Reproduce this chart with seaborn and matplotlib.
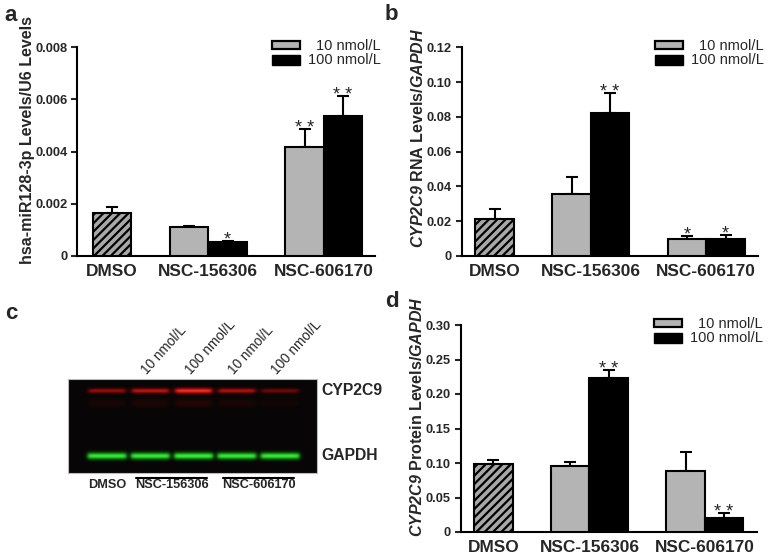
import numpy as np
import pandas as pd
import matplotlib
matplotlib.use("Agg")
import matplotlib.pyplot as plt
import seaborn as sns
from matplotlib.patches import Rectangle
from matplotlib.lines import Line2D

# ---------------- data ----------------
groups = ["DMSO", "NSC-156306", "NSC-606170"]
doses = ["10 nmol/L", "100 nmol/L"]

# panel a: hsa-miR128-3p / U6
a_dmso, a_dmso_err = 0.00165, 0.00022
a_10 = [0.00110, 0.00416]
a_10_err = [0.00004, 0.00069]
a_100 = [0.00055, 0.00536]
a_100_err = [0.00004, 0.00077]
a_sig_10 = ["", "**"]
a_sig_100 = ["*", "**"]
a_yticks = [0, 0.002, 0.004, 0.006, 0.008]
a_yticklabels = ["0", "0.002", "0.004", "0.006", "0.008"]

# panel b: CYP2C9 RNA / GAPDH
b_dmso, b_dmso_err = 0.0213, 0.0057
b_10 = [0.0355, 0.0099]
b_10_err = [0.0099, 0.0016]
b_100 = [0.0824, 0.0096]
b_100_err = [0.0111, 0.0026]
b_sig_10 = ["", "*"]
b_sig_100 = ["**", "*"]
b_yticks = [0, 0.02, 0.04, 0.06, 0.08, 0.10, 0.12]
b_yticklabels = ["0", "0.02", "0.04", "0.06", "0.08", "0.10", "0.12"]

# panel d: CYP2C9 protein / GAPDH
d_dmso, d_dmso_err = 0.098, 0.007
d_10 = [0.0957, 0.0889]
d_10_err = [0.0057, 0.0275]
d_100 = [0.2236, 0.0208]
d_100_err = [0.0112, 0.0072]
d_sig_10 = ["", ""]
d_sig_100 = ["**", "**"]
d_yticks = [0, 0.05, 0.10, 0.15, 0.20, 0.25, 0.30]
d_yticklabels = ["0", "0.05", "0.10", "0.15", "0.20", "0.25", "0.30"]

# panel c: western blot lanes
lane_groups = ["DMSO", "NSC-156306", "NSC-156306", "NSC-606170", "NSC-606170"]
lane_doses = ["", "10 nmol/L", "100 nmol/L", "10 nmol/L", "100 nmol/L"]
cyp_band = [0.60, 0.75, 1.00, 0.70, 0.45]
gapdh_band = [0.95, 0.95, 0.97, 0.95, 0.95]
blot_labels = ["CYP2C9", "GAPDH"]

# ---------------- style ----------------
sns.set_style("ticks")
plt.rcParams["font.family"] = ["Liberation Sans", "DejaVu Sans"]
plt.rcParams["mathtext.fontset"] = "custom"
plt.rcParams["mathtext.it"] = "Liberation Sans:italic:bold"
plt.rcParams["mathtext.rm"] = "Liberation Sans:italic:bold"
plt.rcParams["mathtext.bf"] = "Liberation Sans:bold"
plt.rcParams["hatch.linewidth"] = 1.6

W, H = 770, 556
fig = plt.figure(figsize=(W / 100, H / 100), dpi=100)
fig.patch.set_facecolor("white")


def axes_px(l, t, r, b):
    return fig.add_axes([l / W, 1 - b / H, (r - l) / W, (b - t) / H])


GRAY = "#b4b4b4"
HATCH_FACE = "#a8a8a8"
LW = 1.5


def bar_panel(ax, dmso, dmso_err, v10, e10, v100, e100, s10, s100,
              yticks, yticklabels, ylabel, xlim, label_xy):
    kinds, pos, vals, errs, sigs = ["DMSO"], [0.0], [dmso], [dmso_err], [""]
    for j in range(len(v10)):
        kinds += [doses[0], doses[1]]
        pos += [2.0 + 3 * j, 3.0 + 3 * j]
        vals += [v10[j], v100[j]]
        errs += [e10[j], e100[j]]
        sigs += [s10[j], s100[j]]
    df = pd.DataFrame({"kind": kinds, "pos": pos, "value": vals, "err": errs, "sig": sigs})
    sns.barplot(data=df, x="pos", y="value", hue="kind",
                hue_order=["DMSO"] + doses,
                palette={"DMSO": HATCH_FACE, doses[0]: GRAY, doses[1]: "black"},
                native_scale=True, width=1.0, dodge=False, errorbar=None,
                edgecolor="black", linewidth=LW, legend=False, ax=ax, zorder=3)
    for bar in ax.containers[0]:
        bar.set_hatch("////")
    ax.errorbar(df["pos"], df["value"], yerr=[np.zeros(len(df)), df["err"]],
                fmt="none", ecolor="black", elinewidth=LW, capsize=4.3,
                capthick=LW, zorder=2)
    for _, r in df.iterrows():
        if r["sig"]:
            ax.annotate(" ".join(r["sig"]), xy=(r["pos"], r["value"] + r["err"]),
                        xytext=(0, -2.8), textcoords="offset points",
                        ha="center", va="baseline", fontsize=13)
    ax.set_xlim(*xlim)
    ax.set_ylim(yticks[0], yticks[-1])
    ax.set_xticks([0, 2.5, 5.5])
    ax.set_xticklabels(groups, fontweight="bold", fontsize=12.4)
    ax.set_yticks(yticks)
    ax.set_yticklabels(yticklabels, fontweight="bold", fontsize=9.3)
    ax.tick_params(axis="x", length=0, pad=6)
    ax.tick_params(axis="y", length=4, width=LW, pad=3, direction="out")
    for s in ["top", "right"]:
        ax.spines[s].set_visible(False)
    for s in ["left", "bottom"]:
        ax.spines[s].set_linewidth(LW)
        ax.spines[s].set_color("black")
    ax.set_xlabel("")
    ax.set_ylabel(ylabel, fontweight="bold", fontsize=11.5)
    ax.yaxis.set_label_coords(*label_xy)
    ax.set_facecolor("white")

    # legend (manual, right-aligned labels)
    p = ax.get_position()
    R = p.x1 * W
    T = (1 - p.y1) * H
    fig.add_artist(Rectangle(((R - 103) / W, 1 - (T + 2) / H), 28 / W, 8 / H,
                             transform=fig.transFigure, facecolor=GRAY,
                             edgecolor="black", linewidth=1.6))
    fig.add_artist(Rectangle(((R - 103) / W, 1 - (T + 18) / H), 28 / W, 10 / H,
                             transform=fig.transFigure, facecolor="black",
                             edgecolor="black", linewidth=1.0))
    fig.text((R + 6) / W, 1 - (T - 1.5) / H, doses[0], ha="right", va="center", fontsize=10.5)
    fig.text((R + 6) / W, 1 - (T + 12.5) / H, doses[1], ha="right", va="center", fontsize=10.5)


# panel a
ax_a = axes_px(77, 47.3, 375, 256)
bar_panel(ax_a, a_dmso, a_dmso_err, a_10, a_10_err, a_100, a_100_err,
          a_sig_10, a_sig_100, a_yticks, a_yticklabels,
          "hsa-miR128-3p Levels/U6 Levels", (-0.909, 6.83), (-0.14, 0.556))

# panel b
ax_b = axes_px(461.7, 47.3, 758, 256)
bar_panel(ax_b, b_dmso, b_dmso_err, b_10, b_10_err, b_100, b_100_err,
          b_sig_10, b_sig_100, b_yticks, b_yticklabels,
          r"$\mathit{CYP2C9}$ RNA Levels/$\mathit{GAPDH}$", (-0.852, 6.844), (-0.12, 0.568))

# panel d
ax_d = axes_px(460.7, 325, 757, 532)
bar_panel(ax_d, d_dmso, d_dmso_err, d_10, d_10_err, d_100, d_100_err,
          d_sig_10, d_sig_100, d_yticks, d_yticklabels,
          r"$\mathit{CYP2C9}$ Protein Levels/$\mathit{GAPDH}$", (-0.847, 6.857), (-0.122, 0.558))

# panel c: western blot
bl, bt, br, bb = 68, 379, 317, 473
ax_c = axes_px(bl, bt, br, bb)
lane_px = 43.3
xl = -(107 - bl) / lane_px
xr = (br - 107) / lane_px
hpx = bb - bt
nx, ny = int((br - bl) * 4), int(hpx * 4)
xs = np.linspace(xl, xr, nx)
ys = np.linspace(0, hpx, ny)
red = np.zeros((ny, nx))
green = np.zeros((ny, nx))
for i, (rc, gc) in enumerate(zip(cyp_band, gapdh_band)):
    hp_r = 1 / (1 + np.exp((np.abs(xs - i) - 0.43) / 0.03))
    hp_g = 1 / (1 + np.exp((np.abs(xs - i) - 0.45) / 0.025))
    thick = 1.7 + 1.0 * rc
    red += rc * np.exp(-((ys[:, None] - 11.7) / thick) ** 2) * hp_r[None, :]
    red += 0.12 * rc * np.exp(-((ys[:, None] - 24) / 4.0) ** 2) * hp_r[None, :]
    green += gc * np.exp(-((ys[:, None] - 77.0) / 3.3) ** 2) * hp_g[None, :]
img = np.zeros((ny, nx, 3))
img[..., 0] = 0.03 + 0.95 * red + 0.2 * green ** 2
img[..., 1] = 0.02 + 0.15 * red ** 3 + 0.95 * green
img[..., 2] = 0.02 + 0.12 * red ** 3 + 0.22 * green ** 2
img = np.clip(img, 0, 1)
ax_c.imshow(img, extent=(xl, xr, hpx, 0), aspect="auto", interpolation="bilinear")
ax_c.set_xlim(xl, xr)
ax_c.set_ylim(hpx, 0)
ax_c.set_xticks([])
ax_c.set_yticks([])
for s in ax_c.spines.values():
    s.set_color("#bbbbbb")
    s.set_linewidth(0.8)

for i, d in enumerate(lane_doses):
    if d:
        ax_c.text(i - 0.07, -4, d, rotation=48, rotation_mode="anchor",
                  ha="left", va="baseline", fontsize=9.8, clip_on=False)
for name in groups:
    idx = [i for i, g in enumerate(lane_groups) if g == name]
    c = float(np.mean(idx))
    if len(idx) > 1:
        ax_c.add_line(Line2D([c - 0.82, c + 0.82], [hpx + 5, hpx + 5],
                             color="black", lw=1.5, clip_on=False))
    ax_c.text(c, hpx + 11.5, name, ha="center", va="center",
              fontsize=9.2, fontweight="bold", clip_on=False)
fig.text(321 / W, 1 - 390.7 / H, blot_labels[0], ha="left", va="center",
         fontsize=11.3, fontweight="bold")
fig.text(321 / W, 1 - 456 / H, blot_labels[1], ha="left", va="center",
         fontsize=11.3, fontweight="bold")

# panel letters
for txt, x, y in [("a", 4, 21), ("b", 385, 19.5), ("c", 5, 319), ("d", 385, 307)]:
    fig.text(x / W, 1 - y / H, txt, fontsize=16, fontweight="bold",
             ha="left", va="baseline")

fig.savefig("out.png", dpi=100)
